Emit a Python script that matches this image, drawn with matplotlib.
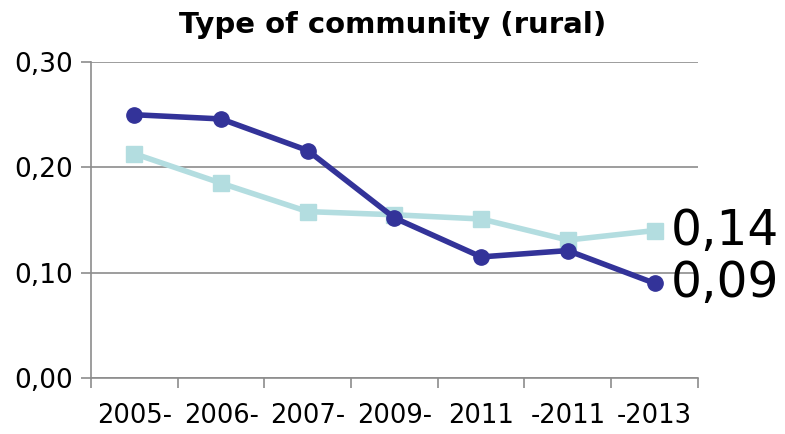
import matplotlib
matplotlib.use("Agg")
import matplotlib.pyplot as plt
from matplotlib.ticker import FixedLocator, FuncFormatter

title = "Type of community (rural)"
periods = ["2005-", "2006-", "2007-", "2009-", "2011", "-2011", "-2013"]
dark_series = [0.25, 0.246, 0.216, 0.152, 0.115, 0.121, 0.09]
light_series = [0.213, 0.185, 0.158, 0.155, 0.151, 0.131, 0.14]

dark_color = "#333399"
light_color = "#b3dde0"
axis_gray = "#8c8c8c"

fig = plt.figure(figsize=(7.85, 4.34), dpi=100)
ax = fig.add_axes([0.116, 0.129, 0.773, 0.728])

x = list(range(len(periods)))
ax.plot(x, light_series, color=light_color, lw=4, marker="s", ms=11,
        zorder=3, solid_joinstyle="round")
ax.plot(x, dark_series, color=dark_color, lw=4, marker="o", ms=11,
        zorder=4, solid_joinstyle="round")

# value labels at the last point of each series
for series in (light_series, dark_series):
    ax.annotate(f"{series[-1]:.2f}".replace(".", ","),
                xy=(x[-1], series[-1]), xytext=(12, 0),
                textcoords="offset points", ha="left", va="center",
                fontsize=35, color="black", annotation_clip=False)

ax.set_xlim(-0.5, len(periods) - 0.5)
ax.set_ylim(0, 0.30)

ax.set_yticks([0.0, 0.10, 0.20, 0.30])
ax.yaxis.set_major_formatter(FuncFormatter(lambda v, p: f"{v:.2f}".replace(".", ",")))
ax.yaxis.grid(True, color=axis_gray, lw=1.2)
ax.set_axisbelow(True)

# category boundaries carry the tick marks, centres carry the labels
ax.xaxis.set_major_locator(FixedLocator([i - 0.5 for i in range(len(periods) + 1)]))
ax.xaxis.set_major_formatter(FuncFormatter(lambda v, p: ""))
ax.xaxis.set_minor_locator(FixedLocator(x))
ax.set_xticklabels(periods, minor=True)
ax.tick_params(axis="x", which="major", length=7, width=1.2, color=axis_gray, direction="out")
ax.tick_params(axis="x", which="minor", length=0, pad=18, labelsize=18.5)
ax.tick_params(axis="y", length=7, width=1.2, color=axis_gray, labelsize=19, pad=6)

for side in ("top", "right"):
    ax.spines[side].set_visible(False)
for side in ("left", "bottom"):
    ax.spines[side].set_color(axis_gray)
    ax.spines[side].set_linewidth(1.2)

fig.text(0.5, 0.942, title, ha="center", va="center", fontsize=21, fontweight="bold")

fig.savefig("out.png", dpi=100)
